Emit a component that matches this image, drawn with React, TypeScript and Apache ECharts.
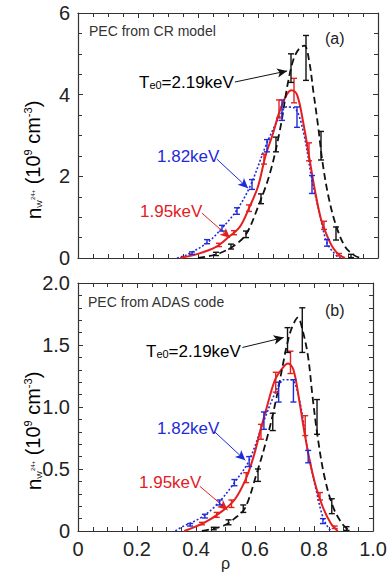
import React, { useEffect, useRef } from "react";
import * as echarts from "echarts";

// ---------- data (rho vs n_W24+) ----------
// Panel (a): PEC from CR model
const rhoBlackA = [0.40, 0.44, 0.48, 0.52, 0.56, 0.60, 0.64, 0.673, 0.70, 0.72, 0.74, 0.755, 0.77, 0.785, 0.80, 0.815, 0.835, 0.86, 0.89, 0.92, 0.94];
const nBlackA = [0.00, 0.05, 0.14, 0.30, 0.58, 1.25, 2.08, 3.13, 4.30, 4.90, 5.15, 5.20, 4.85, 4.05, 3.25, 2.35, 1.50, 0.80, 0.28, 0.07, 0.00];
const ebRhoBlackA = [0.46, 0.51, 0.56, 0.61, 0.66, 0.71, 0.76, 0.81, 0.86, 0.91];
const ebNBlackA = [0.10, 0.28, 0.58, 1.45, 2.78, 4.65, 4.90, 2.75, 0.60, 0.05];
const ebErrBlackA = [0.04, 0.06, 0.08, 0.12, 0.18, 0.35, 0.55, 0.35, 0.16, 0.04];

const rhoRedA = [0.34, 0.40, 0.46, 0.50, 0.54, 0.57, 0.60, 0.625, 0.65, 0.67, 0.695, 0.712, 0.73, 0.75, 0.77, 0.79, 0.81, 0.83, 0.85, 0.87, 0.89];
const nRedA = [0.00, 0.10, 0.27, 0.50, 0.77, 1.22, 1.75, 2.50, 3.05, 3.55, 3.99, 4.11, 4.00, 3.35, 2.50, 1.65, 0.95, 0.55, 0.25, 0.08, 0.00];
const ebRhoRedA = [0.47, 0.52, 0.57, 0.62, 0.67, 0.72, 0.77, 0.82, 0.87];
const ebNRedA = [0.32, 0.62, 1.22, 2.42, 3.65, 4.10, 2.60, 0.80, 0.08];
const ebErrRedA = [0.04, 0.05, 0.08, 0.12, 0.22, 0.30, 0.22, 0.10, 0.03];

const rhoBlueA = [0.33, 0.36, 0.43, 0.48, 0.53, 0.575, 0.63, 0.672, 0.695, 0.722, 0.75, 0.78, 0.805, 0.83, 0.86, 0.875];
const nBlueA = [0.00, 0.07, 0.37, 0.73, 1.18, 1.78, 2.82, 3.46, 3.70, 3.67, 3.13, 1.91, 1.10, 0.37, 0.07, 0.00];
const ebRhoBlueA = [0.38, 0.43, 0.48, 0.53, 0.58, 0.63, 0.68, 0.73, 0.78, 0.83];
const ebNBlueA = [0.12, 0.40, 0.73, 1.15, 1.80, 2.75, 3.62, 3.45, 1.80, 0.37];
const ebErrBlueA = [0.03, 0.05, 0.07, 0.08, 0.12, 0.15, 0.25, 0.25, 0.22, 0.08];

// Panel (b): PEC from ADAS code
const rhoBlackB = [0.42, 0.46, 0.50, 0.53, 0.565, 0.605, 0.645, 0.673, 0.695, 0.71, 0.725, 0.745, 0.763, 0.78, 0.795, 0.812, 0.835, 0.865, 0.895, 0.92];
const nBlackB = [0.00, 0.02, 0.05, 0.10, 0.18, 0.46, 0.79, 1.08, 1.35, 1.52, 1.64, 1.72, 1.60, 1.40, 1.08, 0.76, 0.44, 0.19, 0.06, 0.00];
const ebRhoBlackB = [0.46, 0.51, 0.56, 0.61, 0.66, 0.71, 0.76, 0.81, 0.86, 0.91];
const ebNBlackB = [0.02, 0.07, 0.18, 0.45, 0.88, 1.54, 1.62, 0.92, 0.20, 0.02];
const ebErrBlackB = [0.01, 0.02, 0.03, 0.05, 0.07, 0.10, 0.18, 0.14, 0.06, 0.015];

const rhoRedB = [0.36, 0.43, 0.483, 0.53, 0.567, 0.595, 0.618, 0.64, 0.668, 0.695, 0.712, 0.73, 0.75, 0.767, 0.785, 0.807, 0.83, 0.857, 0.88];
const nRedB = [0.00, 0.07, 0.15, 0.25, 0.41, 0.60, 0.81, 1.00, 1.22, 1.32, 1.35, 1.30, 1.05, 0.80, 0.57, 0.35, 0.19, 0.06, 0.00];
const ebRhoRedB = [0.42, 0.47, 0.52, 0.57, 0.62, 0.67, 0.72, 0.77, 0.82, 0.87];
const ebNRedB = [0.06, 0.13, 0.22, 0.43, 0.80, 1.20, 1.36, 0.85, 0.28, 0.03];
const ebErrRedB = [0.01, 0.02, 0.03, 0.04, 0.06, 0.08, 0.09, 0.08, 0.03, 0.01];

const rhoBlueB = [0.33, 0.35, 0.418, 0.473, 0.53, 0.58, 0.63, 0.673, 0.695, 0.723, 0.75, 0.78, 0.807, 0.83, 0.85, 0.86];
const nBlueB = [0.00, 0.03, 0.11, 0.22, 0.39, 0.57, 0.89, 1.14, 1.22, 1.22, 1.06, 0.63, 0.33, 0.11, 0.02, 0.00];
const ebRhoBlueB = [0.38, 0.43, 0.48, 0.53, 0.58, 0.63, 0.68, 0.73, 0.78, 0.83];
const ebNBlueB = [0.05, 0.12, 0.23, 0.39, 0.56, 0.89, 1.12, 1.13, 0.60, 0.08];
const ebErrBlueB = [0.01, 0.015, 0.02, 0.025, 0.04, 0.07, 0.08, 0.09, 0.05, 0.02];

// Arrow annotations [rho1, n1, rho2, n2]
const arrowBlackA = [0.523, 4.31, 0.697, 4.58];
const arrowBlueA = [0.463, 2.42, 0.567, 1.71];
const arrowRedA = [0.413, 1.10, 0.507, 0.49];
const arrowBlackB = [0.557, 1.48, 0.697, 1.56];
const arrowBlueB = [0.463, 0.80, 0.567, 0.57];
const arrowRedB = [0.413, 0.36, 0.507, 0.17];

const xTicks = [0, 0.2, 0.4, 0.6, 0.8, 1.0];

const BLACK = "#111111";
const RED = "#e3201f";
const BLUE = "#1f2ad8";
const FONT = "'Liberation Sans', Arial, sans-serif";

const zip2 = (a: number[], b: number[]) => a.map((v, i) => [v, b[i]]);
const zip3 = (a: number[], b: number[], c: number[]) => a.map((v, i) => [v, b[i], c[i]]);

function errSeries(data: number[][], color: string, xi: number, yi: number) {
  return {
    type: "custom",
    xAxisIndex: xi,
    yAxisIndex: yi,
    silent: true,
    z: 5,
    encode: { x: 0, y: 1 },
    data,
    renderItem: (params: any, api: any) => {
      const x = api.value(0);
      const y = api.value(1);
      const e = api.value(2);
      const top = api.coord([x, y + e]);
      const bot = api.coord([x, y - e]);
      const w = 3;
      const style = { stroke: color, lineWidth: 1.4 };
      return {
        type: "group",
        children: [
          { type: "line", shape: { x1: top[0], y1: top[1], x2: bot[0], y2: bot[1] }, style },
          { type: "line", shape: { x1: top[0] - w, y1: top[1], x2: top[0] + w, y2: top[1] }, style },
          { type: "line", shape: { x1: bot[0] - w, y1: bot[1], x2: bot[0] + w, y2: bot[1] }, style },
        ],
      };
    },
  };
}

function lineSeries(rho: number[], n: number[], color: string, type: any, width: number, xi: number, yi: number, arrow: number[]) {
  return {
    type: "line",
    xAxisIndex: xi,
    yAxisIndex: yi,
    data: zip2(rho, n),
    showSymbol: false,
    smooth: 0.35,
    z: 4,
    lineStyle: { color, width, type },
    markLine: {
      silent: true,
      symbol: ["none", "arrow"],
      symbolSize: [7, 10],
      label: { show: false },
      lineStyle: { color, width: 1, type: "solid" },
      data: [[{ coord: [arrow[0], arrow[1]] }, { coord: [arrow[2], arrow[3]] }]],
    },
  };
}

function xAxisDef(grid: number, position: string, labels: boolean) {
  return {
    type: "value",
    gridIndex: grid,
    position,
    min: 0,
    max: 1,
    interval: 0.2,
    axisLine: { show: true, onZero: false, lineStyle: { color: "#333", width: 1.2 } },
    axisTick: { show: true, inside: true, length: 5, lineStyle: { color: "#333" } },
    minorTick: { show: true, splitNumber: 4, length: 4, lineStyle: { color: "#333" } },
    splitLine: { show: false },
    axisLabel: {
      show: labels,
      fontSize: 20,
      fontFamily: FONT,
      color: "#222",
      margin: 8,
      formatter: (v: number) => {
        const t = xTicks.find((k) => Math.abs(k - v) < 1e-6);
        return t === undefined ? "" : t === 0 ? "0" : t.toFixed(1);
      },
    },
  };
}

function yAxisDef(grid: number, position: string, labels: boolean, max: number, interval: number, minorSplit: number, fmt: (v: number) => string) {
  return {
    type: "value",
    gridIndex: grid,
    position,
    min: 0,
    max,
    interval,
    axisLine: { show: true, onZero: false, lineStyle: { color: "#333", width: 1.2 } },
    axisTick: { show: true, inside: true, length: 5, lineStyle: { color: "#333" } },
    minorTick: { show: true, splitNumber: minorSplit, length: 4, lineStyle: { color: "#333" } },
    splitLine: { show: false },
    axisLabel: { show: labels, fontSize: 20, fontFamily: FONT, color: "#222", margin: 8, formatter: fmt },
  };
}

const yTitleRich = {
  n: { fontSize: 21, fontFamily: FONT, color: "#222" },
  w: { fontSize: 8, fontFamily: FONT, color: "#222", verticalAlign: "bottom" },
  s: { fontSize: 6, fontFamily: FONT, color: "#222", verticalAlign: "middle" },
  m: { fontSize: 20, fontFamily: FONT, color: "#222" },
  p: { fontSize: 11, fontFamily: FONT, color: "#222", verticalAlign: "top" },
};
const yTitleText = "{n|n}{w|W}{s|24+}{m| (10}{p|9}{m| cm}{p|-3}{m|)}";

function teText(x: number, y: number) {
  return {
    type: "text",
    x,
    y,
    style: {
      text: "{t|T}{e|e0}{t|=2.19keV}",
      align: "left",
      verticalAlign: "middle",
      rich: {
        t: { fontSize: 17, fontFamily: FONT, color: "#111" },
        e: { fontSize: 11, fontFamily: FONT, color: "#111", verticalAlign: "bottom" },
      },
    },
  };
}

function plainText(x: number, y: number, text: string, size: number, color: string) {
  return {
    type: "text",
    x,
    y,
    style: { text, fontSize: size, fontFamily: FONT, fill: color, align: "left", verticalAlign: "middle" },
  };
}

export default function App() {
  const ref = useRef<HTMLDivElement>(null);
  useEffect(() => {
    if (!ref.current) return;
    const chart = echarts.init(ref.current, undefined, { renderer: "svg" });
    const option: any = {
      animation: false,
      backgroundColor: "#ffffff",
      grid: [
        { left: 78, top: 13, width: 300, height: 245 },
        { left: 78, top: 283, width: 300, height: 248 },
      ],
      xAxis: [xAxisDef(0, "bottom", false), xAxisDef(0, "top", false), xAxisDef(1, "bottom", true), xAxisDef(1, "top", false)],
      yAxis: [
        yAxisDef(0, "left", true, 6, 2, 4, (v: number) => String(v)),
        yAxisDef(0, "right", false, 6, 2, 4, (v: number) => String(v)),
        yAxisDef(1, "left", true, 2, 0.5, 5, (v: number) => (v === 0 ? "0" : v.toFixed(1))),
        yAxisDef(1, "right", false, 2, 0.5, 5, (v: number) => (v === 0 ? "0" : v.toFixed(1))),
      ],
      series: [
        lineSeries(rhoBlueA, nBlueA, BLUE, [2, 2], 1.6, 0, 0, arrowBlueA),
        lineSeries(rhoRedA, nRedA, RED, "solid", 2, 0, 0, arrowRedA),
        lineSeries(rhoBlackA, nBlackA, BLACK, [7, 4], 1.8, 0, 0, arrowBlackA),
        errSeries(zip3(ebRhoBlueA, ebNBlueA, ebErrBlueA), BLUE, 0, 0),
        errSeries(zip3(ebRhoRedA, ebNRedA, ebErrRedA), RED, 0, 0),
        errSeries(zip3(ebRhoBlackA, ebNBlackA, ebErrBlackA), BLACK, 0, 0),
        lineSeries(rhoBlueB, nBlueB, BLUE, [2, 2], 1.6, 2, 2, arrowBlueB),
        lineSeries(rhoRedB, nRedB, RED, "solid", 2, 2, 2, arrowRedB),
        lineSeries(rhoBlackB, nBlackB, BLACK, [7, 4], 1.8, 2, 2, arrowBlackB),
        errSeries(zip3(ebRhoBlueB, ebNBlueB, ebErrBlueB), BLUE, 2, 2),
        errSeries(zip3(ebRhoRedB, ebNRedB, ebErrRedB), RED, 2, 2),
        errSeries(zip3(ebRhoBlackB, ebNBlackB, ebErrBlackB), BLACK, 2, 2),
      ],
      graphic: [
        { type: "text", x: 33, y: 160, rotation: Math.PI / 2, style: { text: yTitleText, rich: yTitleRich, align: "center", verticalAlign: "middle" } },
        { type: "text", x: 33, y: 431, rotation: Math.PI / 2, style: { text: yTitleText, rich: yTitleRich, align: "center", verticalAlign: "middle" } },
        plainText(89, 31, "PEC from CR model", 14, "#333"),
        plainText(325, 38, "(a)", 16, "#222"),
        plainText(88, 302, "PEC from ADAS code", 14, "#333"),
        plainText(325, 310, "(b)", 16, "#222"),
        teText(139, 82),
        teText(146, 351),
        plainText(157, 156, "1.82keV", 17, BLUE),
        plainText(140, 211, "1.95keV", 17, RED),
        plainText(157, 428, "1.82keV", 17, BLUE),
        plainText(139, 482, "1.95keV", 17, RED),
        plainText(221, 563, "ρ", 16, "#222"),
      ],
    };
    chart.setOption(option);
    return () => chart.dispose();
  }, []);
  return (
    <div
      ref={ref}
      style={{ position: "fixed", left: 0, top: 0, width: 390, height: 574, background: "#fff" }}
    />
  );
}
